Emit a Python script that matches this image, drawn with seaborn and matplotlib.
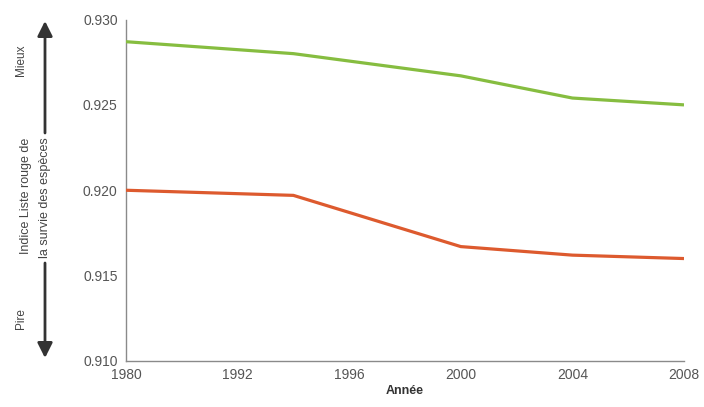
import numpy as np
import pandas as pd
import matplotlib
matplotlib.use("Agg")
import matplotlib.pyplot as plt
from matplotlib.patches import FancyArrowPatch
import seaborn as sns

# Tick years on the x axis (spaced evenly, not proportionally)
tick_years = [1980, 1992, 1996, 2000, 2004, 2008]
y_ticks = [0.910, 0.915, 0.920, 0.925, 0.930]

# Assessment years and index values
years = [1980, 1994, 2000, 2004, 2008]
upper_series = [0.9287, 0.9280, 0.9267, 0.9254, 0.9250]
lower_series = [0.9200, 0.9197, 0.9167, 0.9162, 0.9160]

df = pd.DataFrame({
    "Année": years * 2,
    "Indice": upper_series + lower_series,
    "Série": ["haut"] * len(years) + ["bas"] * len(years),
})

sns.set_theme(style="white")
plt.rcParams["font.family"] = ["Liberation Sans", "DejaVu Sans"]

fig = plt.figure(figsize=(7.04, 4.07), dpi=100)
W, H = 704, 407
ax = fig.add_axes([126 / W, 1 - 361 / H, (684 - 126) / W, (361 - 19.5) / H])

# Even spacing between the labelled years
pos = np.arange(len(tick_years), dtype=float)
fwd = lambda x: np.interp(x, tick_years, pos)
inv = lambda p: np.interp(p, pos, tick_years)
ax.set_xscale("function", functions=(fwd, inv))

sns.lineplot(data=df, x="Année", y="Indice", hue="Série",
             palette={"haut": "#86bd40", "bas": "#dd5a2e"},
             linewidth=2.3, legend=False, ax=ax, zorder=3)
for line in ax.lines:
    line.set_solid_joinstyle("round")
    line.set_solid_capstyle("butt")

ax.set_xlim(1980, 2008)
ax.set_ylim(0.910, 0.930)
ax.set_xticks(tick_years)
ax.set_xticklabels([str(t) for t in tick_years])
ax.set_yticks(y_ticks)
ax.set_yticklabels([f"{v:.3f}" for v in y_ticks])
ax.minorticks_off()

grey = "#8a8a8a"
for side in ["top", "right"]:
    ax.spines[side].set_visible(False)
for side in ["left", "bottom"]:
    ax.spines[side].set_color(grey)
    ax.spines[side].set_linewidth(1.0)
ax.tick_params(axis="both", colors=grey, labelcolor="#555555", labelsize=10,
               length=4, width=1.0, direction="out", pad=2)
ax.tick_params(axis="x", direction="inout", length=6, pad=2)
ax.set_xlabel("Année", fontsize=9, color="#333333", labelpad=2,
              fontweight="bold")
ax.set_ylabel("")


def fy(y):
    return 1 - y / H


def fx(x):
    return x / W


# Vertical axis title with direction arrows
text_kw = dict(rotation=90, ha="center", va="center", color="#444444")
fig.text(fx(26), fy(196), "Indice Liste rouge de", fontsize=9, **text_kw)
fig.text(fx(45), fy(198), "la survie des espèces", fontsize=9, **text_kw)
fig.text(fx(21), fy(60), "Mieux", fontsize=8.5, **text_kw)
fig.text(fx(21), fy(319), "Pire", fontsize=8.5, **text_kw)

arrow_style = dict(arrowstyle="-|>,head_length=0.9,head_width=0.45",
                   mutation_scale=10, color="#333333", lw=2.0,
                   shrinkA=0, shrinkB=0)
fig.add_artist(FancyArrowPatch((fx(45), fy(133)), (fx(45), fy(21)),
                               transform=fig.transFigure, **arrow_style))
fig.add_artist(FancyArrowPatch((fx(45), fy(263)), (fx(45), fy(358)),
                               transform=fig.transFigure, **arrow_style))

fig.savefig("out.png", dpi=100)
